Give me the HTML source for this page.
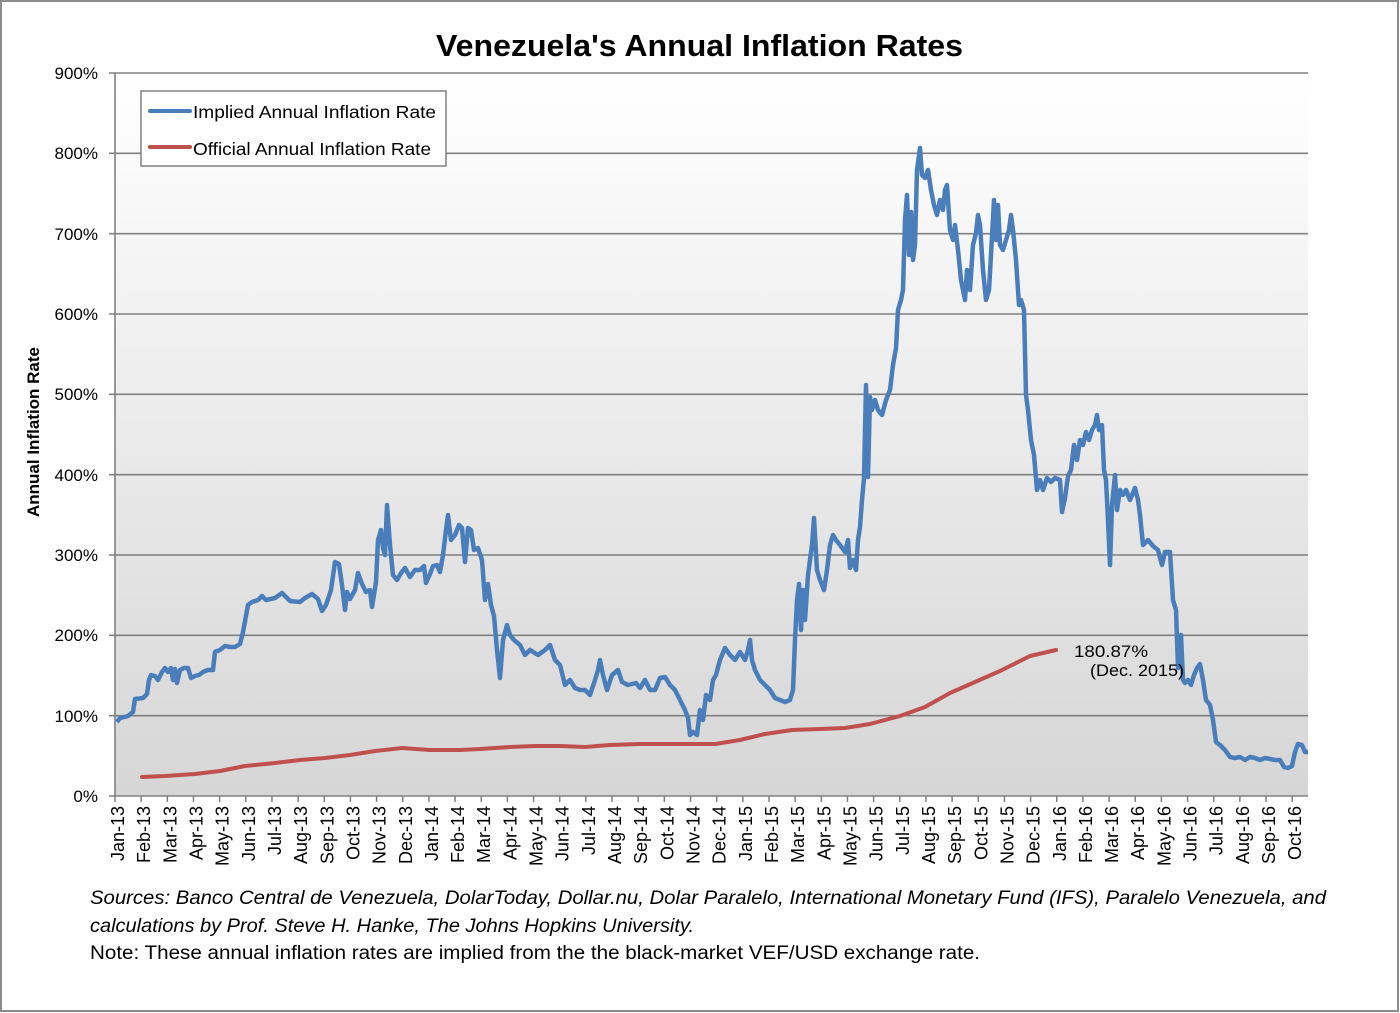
<!DOCTYPE html>
<html><head><meta charset="utf-8"><style>
html,body{margin:0;padding:0;background:#fff}
svg{display:block;font-family:"Liberation Sans",sans-serif}
</style></head><body>
<svg width="1400" height="1013" viewBox="0 0 1400 1013" xmlns="http://www.w3.org/2000/svg">
<defs><linearGradient id="bg" x1="0" y1="0" x2="0" y2="1"><stop offset="0" stop-color="#ffffff"/><stop offset="1" stop-color="#d6d6d6"/></linearGradient></defs>
<rect x="1" y="1" width="1397" height="1010" fill="#fff" stroke="#8c8c8c" stroke-width="2"/>
<text x="436" y="56" font-size="31" font-weight="bold" textLength="527" lengthAdjust="spacingAndGlyphs">Venezuela's Annual Inflation Rates</text>
<rect x="115" y="73" width="1193" height="723" fill="url(#bg)"/>
<g stroke="#808080" stroke-width="1.6">
<line x1="109" y1="73" x2="1308" y2="73"/><line x1="109" y1="153.3" x2="1308" y2="153.3"/><line x1="109" y1="233.7" x2="1308" y2="233.7"/><line x1="109" y1="314" x2="1308" y2="314"/><line x1="109" y1="394.3" x2="1308" y2="394.3"/><line x1="109" y1="474.7" x2="1308" y2="474.7"/><line x1="109" y1="555" x2="1308" y2="555"/><line x1="109" y1="635.3" x2="1308" y2="635.3"/><line x1="109" y1="715.7" x2="1308" y2="715.7"/><line x1="109" y1="796" x2="1308" y2="796"/>
<line x1="115" y1="73" x2="115" y2="796"/>
</g>
<g font-size="17" text-anchor="end" fill="#000">
<text x="98" y="79">900%</text><text x="98" y="159">800%</text><text x="98" y="240">700%</text><text x="98" y="320">600%</text><text x="98" y="400">500%</text><text x="98" y="481">400%</text><text x="98" y="561">300%</text><text x="98" y="641">200%</text><text x="98" y="722">100%</text><text x="98" y="802">0%</text>
</g>
<text transform="translate(39,432) rotate(-90)" text-anchor="middle" font-size="17" font-weight="bold">Annual Inflation Rate</text>
<g id="ticks" stroke="#808080" stroke-width="1.5"></g>
<g id="xl" font-size="18"></g>
<polyline fill="none" stroke="#c0504d" stroke-width="4" stroke-linejoin="round" stroke-linecap="round" points="142,777 165,776 195,774 220,771 245,766 275,763 300,760 325,758 350,755 375,751 402,748 430,750 460,750 480,749 510,747 535,746 560,746 585,747 610,745 640,744 690,744 715,744 740,740 765,734 792,730 820,729 845,728 870,724 900,716 925,707 950,693 975,682 1000,671 1030,656 1056,650"/>
<polyline fill="none" stroke="#4a7ebb" stroke-width="4.5" stroke-linejoin="round" points="117,722 120,718 128,716 133,712 135,699 143,698 147,694 149,680 151,675 155,676 158,680 162,672 165,668 168,672 171,668 173,680 175,669 177,683 180,670 184,668 188,668 191,678 195,676 199,675 203,672 208,670 213,670 215,652 220,650 225,646 230,647 235,647 240,644 243,632 248,605 252,602 258,600 262,596 266,600 275,598 282,593 290,601 300,602 305,598 312,594 318,599 322,611 326,605 331,590 335,562 339,564 342,585 345,610 347,592 350,599 355,590 358,573 362,584 366,592 370,590 372,607 376,582 378,540 381,530 383,548 385,555 387,505 390,545 393,575 397,580 401,573 405,568 410,577 415,570 420,570 424,566 426,583 430,574 433,566 437,565 440,572 443,555 446,530 448,515 451,540 455,535 459,525 462,528 465,562 468,528 471,530 474,550 478,548 482,560 485,600 488,584 491,605 494,616 497,650 500,678 503,640 507,625 510,635 514,640 520,645 525,655 530,650 538,655 545,650 550,645 555,660 560,665 565,685 570,680 575,688 580,690 585,690 590,695 595,680 598,670 600,660 603,675 607,690 612,675 618,670 622,682 628,685 632,684 636,683 640,688 645,680 650,690 655,690 660,678 665,677 670,685 675,690 680,700 685,710 688,718 690,735 693,732 697,735 700,710 703,720 706,695 710,700 713,680 716,675 720,660 725,648 730,655 735,660 740,652 745,660 748,650 750,640 752,660 755,670 760,680 765,685 770,690 775,698 780,700 785,702 790,700 793,690 795,640 797,600 799,584 801,630 803,590 805,620 808,575 812,545 814,518 817,570 820,580 824,590 827,570 830,545 833,535 836,540 840,545 845,552 848,540 850,568 853,560 856,570 858,540 860,527 862,500 864,478 866,385 868,477 870,397 872,410 875,400 878,410 882,415 886,400 890,390 893,365 896,348 898,310 901,300 903,290 905,220 907,195 909,255 911,212 913,260 915,245 917,170 920,148 922,175 925,178 928,170 931,190 934,205 937,215 940,200 943,210 945,190 947,185 950,230 953,240 955,225 958,250 961,280 963,290 965,300 967,270 970,290 973,245 976,233 978,215 980,225 983,270 986,300 989,290 991,255 994,200 996,240 998,205 1000,245 1003,250 1006,240 1009,230 1011,215 1013,230 1016,260 1019,305 1021,300 1024,310 1026,395 1028,410 1031,440 1034,455 1037,490 1040,480 1043,490 1047,478 1051,482 1055,478 1060,480 1062,512 1065,498 1068,476 1071,470 1074,445 1077,460 1080,440 1083,445 1086,432 1089,440 1092,430 1095,425 1097,415 1099,430 1102,425 1104,470 1106,480 1108,520 1110,565 1112,505 1115,475 1117,510 1120,490 1123,495 1126,490 1130,500 1135,488 1138,500 1140,515 1143,545 1148,540 1153,546 1158,550 1162,565 1165,552 1170,552 1173,600 1176,610 1178,668 1181,635 1183,680 1185,683 1188,680 1191,685 1194,675 1197,668 1200,664 1203,680 1206,700 1210,705 1213,720 1216,742 1220,745 1225,750 1230,757 1235,758 1240,757 1245,760 1250,757 1255,758 1260,760 1265,758 1270,759 1275,760 1280,760 1284,767 1288,768 1292,766 1295,752 1298,744 1302,745 1305,752 1308,752"/>
<text x="1074" y="657" font-size="17" textLength="74" lengthAdjust="spacingAndGlyphs">180.87%</text>
<text x="1090" y="676" font-size="17" textLength="94" lengthAdjust="spacingAndGlyphs">(Dec. 2015)</text>
<rect x="141" y="91" width="305" height="75" fill="#fff" stroke="#808080" stroke-width="1.5"/>
<line x1="150" y1="111" x2="190" y2="111" stroke="#4a7ebb" stroke-width="4" stroke-linecap="round"/>
<line x1="150" y1="147" x2="190" y2="147" stroke="#c0504d" stroke-width="4" stroke-linecap="round"/>
<text x="193" y="118" font-size="17.5" textLength="243" lengthAdjust="spacingAndGlyphs">Implied Annual Inflation Rate</text>
<text x="193" y="155" font-size="17.5" textLength="238" lengthAdjust="spacingAndGlyphs">Official Annual Inflation Rate</text>
<text x="90" y="904" font-size="19" font-style="italic" textLength="1236" lengthAdjust="spacingAndGlyphs">Sources: Banco Central de Venezuela, DolarToday, Dollar.nu, Dolar Paralelo, International Monetary Fund (IFS), Paralelo Venezuela, and</text>
<text x="90" y="932" font-size="19" font-style="italic" textLength="604" lengthAdjust="spacingAndGlyphs">calculations by Prof. Steve H. Hanke, The Johns Hopkins University.</text>
<text x="90" y="959" font-size="19" textLength="890" lengthAdjust="spacingAndGlyphs">Note: These annual inflation rates are implied from the the black-market VEF/USD exchange rate.</text>
</svg>
<script>
(function(){
var ns="http://www.w3.org/2000/svg",m=["Jan","Feb","Mar","Apr","May","Jun","Jul","Aug","Sep","Oct","Nov","Dec"];
var t=document.getElementById("ticks"),l=document.getElementById("xl");
for(var i=0;i<46;i++){var x=115+i*26.16;
var ln=document.createElementNS(ns,"line");ln.setAttribute("x1",x);ln.setAttribute("x2",x);ln.setAttribute("y1",796);ln.setAttribute("y2",802);t.appendChild(ln);
var tx=document.createElementNS(ns,"text");var y=13+Math.floor(i/12);
tx.textContent=m[i%12]+"-"+y;tx.setAttribute("text-anchor","end");
tx.setAttribute("transform","translate("+(x+9)+",806) rotate(-90)");l.appendChild(tx);}
})();
</script>
</body></html>
